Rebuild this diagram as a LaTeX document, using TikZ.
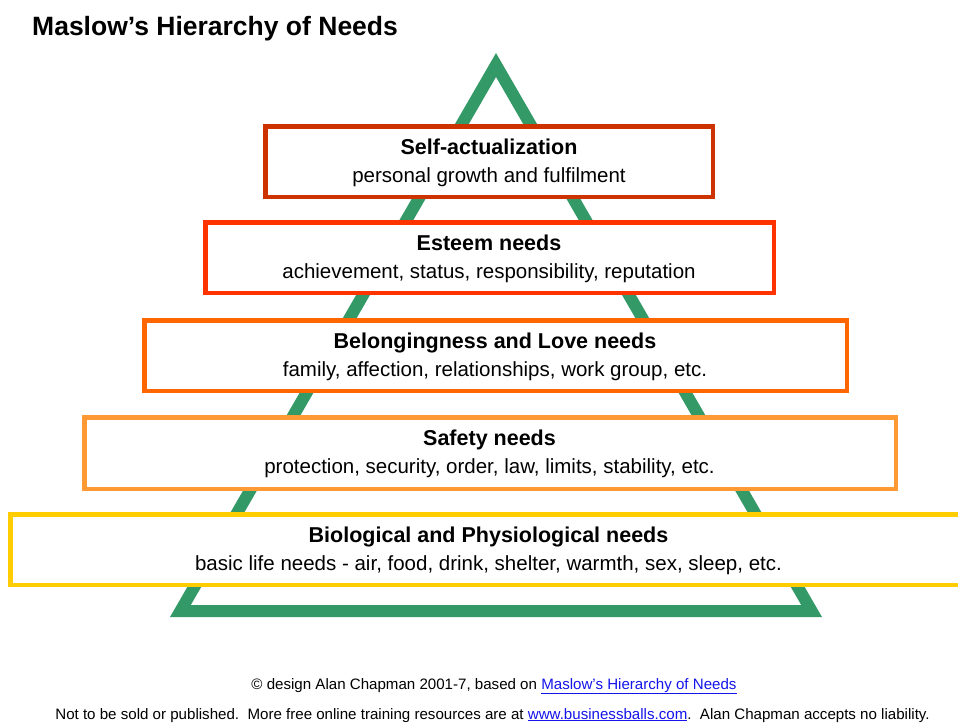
\documentclass[tikz,border=0pt]{standalone}
\usepackage{fontspec}
\setmainfont{Liberation Sans}
\usetikzlibrary{calc}

\definecolor{pyrgreen}{RGB}{51,153,102}
\definecolor{lvlA}{RGB}{204,51,0}
\definecolor{lvlB}{RGB}{255,51,0}
\definecolor{lvlC}{RGB}{255,102,0}
\definecolor{lvlD}{RGB}{255,153,51}
\definecolor{lvlE}{RGB}{255,204,0}
\definecolor{linkblue}{RGB}{20,20,235}

\newcommand{\weblink}[1]{\textcolor{linkblue}{\underline{#1}}}

\tikzset{
  needbox/.style={draw, fill=white, line width=4.5pt, rectangle, inner sep=0pt},
  headtxt/.style={anchor=base, inner sep=0pt, font=\fontsize{21.5}{24}\selectfont\bfseries},
  subtxt/.style={anchor=base, inner sep=0pt, font=\fontsize{20.5}{24}\selectfont},
  foottxt/.style={anchor=base, inner sep=0pt, font=\fontsize{15.1}{17}\selectfont},
}

\begin{document}
\begin{tikzpicture}[x=1pt, y=-1pt]
\useasboundingbox (0,0) rectangle (958,723);

% title
\node[anchor=base west, inner sep=0pt, font=\fontsize{26.5}{30}\selectfont\bfseries] (title) at (32,35) {Maslow’s Hierarchy of Needs};

% pyramid outline
\coordinate (apex) at (496,65);
\coordinate (baseL) at (180.4,611);
\coordinate (baseR) at (811.6,611);
\draw[pyrgreen, line width=12pt, line join=miter, miter limit=10] (apex) -- (baseL) -- (baseR) -- cycle;

% level boxes (outer edge minus line width)
\node[needbox, draw=lvlA, minimum width=447.5pt, minimum height=70.5pt] (self) at (489,161.5) {};
\node[needbox, draw=lvlB, minimum width=568.5pt, minimum height=70.5pt] (esteem) at (489.5,257.5) {};
\node[needbox, draw=lvlC, minimum width=702.5pt, minimum height=70.5pt] (belong) at (495.5,355.5) {};
\node[needbox, draw=lvlD, minimum width=811.5pt, minimum height=71.5pt] (safety) at (490,453) {};
\node[needbox, draw=lvlE, minimum width=956.5pt, minimum height=70.5pt] (bio) at (488.5,549.5) {};

% level texts
\node[headtxt] (selfT) at (489,154) {Self-actualization};
\node[subtxt] (selfS) at (489,182) {personal growth and fulfilment};

\node[headtxt] (esteemT) at (489,250) {Esteem needs};
\node[subtxt] (esteemS) at (489,278) {achievement, status, responsibility, reputation};

\node[headtxt] (belongT) at (495,348) {Belongingness and Love needs};
\node[subtxt] (belongS) at (495,376) {family, affection, relationships, work group, etc.};

\node[headtxt] (safetyT) at (489.5,445) {Safety needs};
\node[subtxt] (safetyS) at (489.5,473) {protection, security, order, law, limits, stability, etc.};

\node[headtxt] (bioT) at (488.5,542) {Biological and Physiological needs};
\node[subtxt] (bioS) at (488.5,570) {basic life needs - air, food, drink, shelter, warmth, sex, sleep, etc.};

% footer
\node[foottxt] (credit) at (494,689) {© design Alan Chapman 2001-7, based on \weblink{Maslow’s Hierarchy of Needs}};
\node[foottxt] (notice) at (492.5,719) {Not to be sold or published.\ \ More free online training resources are at \weblink{www.businessballs.com}.\ \ Alan Chapman accepts no liability.};
\end{tikzpicture}
\end{document}
